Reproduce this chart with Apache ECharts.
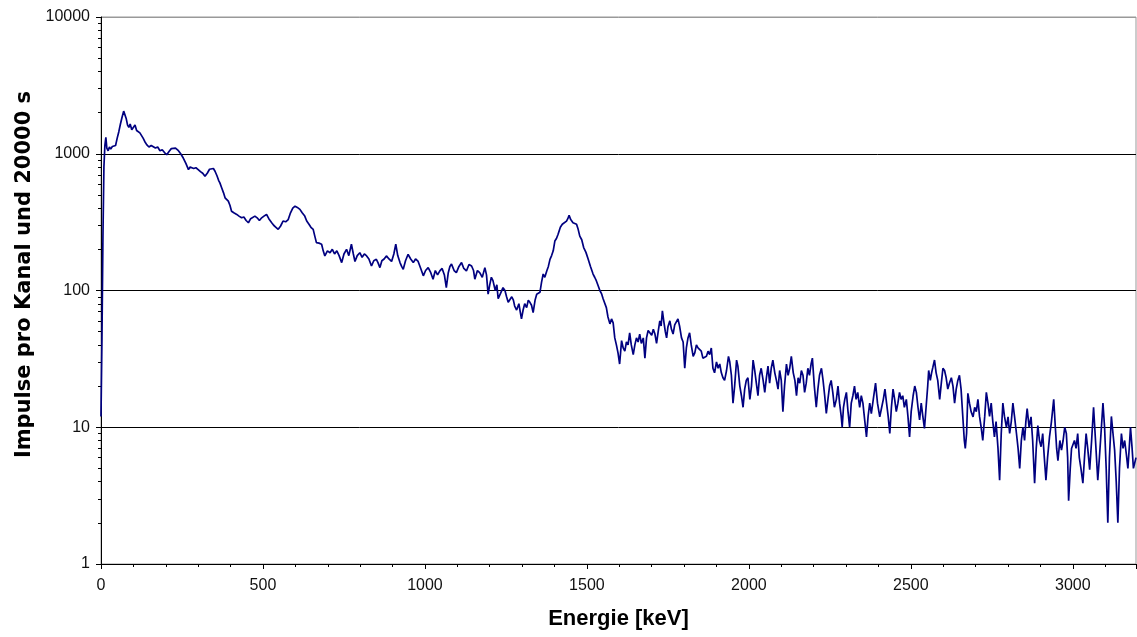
<!DOCTYPE html>
<html>
<head>
<meta charset="utf-8">
<script src="https://cdn.jsdelivr.net/npm/echarts@6/dist/echarts.min.js"></script>
<style>
html,body{margin:0;padding:0;background:#fff;}
#chart{width:1137px;height:637px;}
</style>
</head>
<body>
<div id="chart"></div>
<script>
// Energy (keV) of each plotted point
const energy = [
  0,3,6,9,12,15,18,22,26,30,
  35,40,45,50,55,60,65,70,74,78,
  82,86,90,95,100,105,110,115,120,125,
  130,135,141,148,155,161,168,175,182,189,
  196,203,210,217,223,230,239,246,254,262,
  270,275,280,286,293,300,307,314,321,328,
  335,341,347,352,358,363,367,373,378,383,
  388,393,398,403,410,419,426,434,441,448,
  455,462,468,475,482,489,496,503,511,518,
  527,533,540,547,554,562,570,578,585,592,
  599,606,614,621,629,635,642,648,655,660,
  665,673,681,686,691,699,707,714,721,728,
  735,743,750,758,765,773,779,784,791,799,
  806,813,820,827,835,842,850,855,861,867,
  874,881,889,897,904,910,916,923,928,933,
  940,948,956,964,971,979,987,995,1002,1010,
  1018,1025,1032,1039,1046,1053,1060,1066,1072,1077,
  1082,1090,1097,1105,1113,1120,1128,1136,1144,1150,
  1154,1162,1169,1177,1185,1190,1195,1200,1205,1210,
  1217,1222,1226,1233,1241,1247,1252,1257,1262,1268,
  1273,1277,1283,1290,1294,1298,1303,1308,1314,1319,
  1324,1329,1334,1340,1345,1350,1355,1360,1365,1370,
  1376,1381,1386,1391,1396,1401,1406,1411,1418,1424,
  1430,1437,1441,1445,1450,1457,1463,1468,1473,1478,
  1484,1490,1497,1504,1511,1519,1524,1529,1535,1540,
  1545,1550,1555,1560,1565,1571,1576,1581,1586,1591,
  1596,1601,1607,1612,1617,1622,1627,1632,1637,1643,
  1648,1653,1658,1663,1668,1674,1679,1684,1689,1694,
  1700,1705,1710,1715,1720,1725,1729,1733,1738,1742,
  1746,1750,1756,1761,1766,1771,1776,1781,1786,1792,
  1797,1802,1807,1812,1817,1822,1828,1833,1838,1843,
  1848,1853,1858,1864,1869,1874,1879,1884,1889,1894,
  1900,1905,1910,1915,1920,1925,1931,1937,1941,1946,
  1951,1956,1962,1966,1972,1977,1982,1987,1992,1997,
  2003,2008,2013,2018,2023,2028,2033,2038,2044,2049,
  2054,2059,2064,2069,2074,2080,2085,2090,2095,2100,
  2105,2110,2116,2121,2126,2131,2137,2142,2147,2152,
  2157,2162,2167,2172,2177,2182,2187,2192,2196,2202,
  2208,2213,2218,2224,2229,2234,2239,2244,2249,2254,
  2259,2264,2270,2275,2280,2285,2288,2292,2296,2301,
  2306,2311,2316,2321,2326,2331,2336,2342,2347,2352,
  2358,2363,2368,2373,2378,2384,2391,2397,2404,2410,
  2415,2420,2425,2430,2435,2440,2445,2450,2455,2460,
  2465,2470,2475,2480,2486,2491,2496,2501,2507,2512,
  2517,2522,2527,2532,2537,2542,2547,2552,2555,2560,
  2564,2568,2573,2578,2583,2589,2594,2599,2604,2609,
  2614,2619,2625,2630,2635,2640,2645,2650,2655,2661,
  2665,2668,2672,2676,2681,2686,2692,2697,2702,2707,
  2712,2717,2722,2728,2733,2738,2743,2748,2753,2758,
  2763,2769,2774,2779,2784,2789,2795,2800,2805,2810,
  2815,2820,2826,2831,2836,2841,2846,2851,2855,2859,
  2865,2871,2876,2882,2887,2892,2897,2902,2907,2912,
  2917,2922,2928,2934,2941,2946,2950,2954,2960,2965,
  2970,2975,2980,2984,2987,2992,2996,3000,3005,3010,
  3015,3020,3025,3031,3036,3041,3046,3052,3058,3064,
  3070,3077,3082,3087,3093,3098,3103,3108,3113,3119,
  3124,3129,3134,3139,3144,3150,3155,3160,3165,3170,
  3174,3178,3183,3187,3191,3195
];
// Counts per channel in 20000 s
const counts = [
  12,45,250,800,1150,1320,1100,1050,1120,1080,
  1130,1110,1150,1300,1450,1650,1850,2050,2000,1800,
  1620,1560,1650,1500,1540,1620,1480,1500,1420,1380,
  1300,1230,1165,1120,1150,1130,1100,1120,1053,1070,
  1020,985,1040,1090,1113,1100,1053,1000,930,850,
  766,800,809,780,790,766,740,720,684,720,
  770,796,780,745,690,640,612,560,520,476,
  480,450,420,380,370,360,350,340,345,325,
  313,335,330,350,340,325,340,350,360,335,
  313,300,290,280,295,322,318,330,370,400,
  414,405,392,370,350,322,305,290,280,250,
  224,222,218,195,179,195,189,200,185,195,
  180,160,185,200,180,218,185,163,180,189,
  175,185,179,170,151,165,169,160,147,165,
  170,179,170,163,185,218,180,160,150,143,
  165,184,170,160,170,163,145,128,140,147,
  135,121,140,130,139,145,130,105,135,150,
  156,140,135,150,160,145,139,155,151,140,
  121,140,135,125,147,130,94,110,125,118,
  100,110,87,95,105,100,90,82,80,90,
  85,77,72,80,70,62,72,80,75,85,
  82,78,69,85,94,92,97,115,132,125,
  139,150,169,180,195,230,240,258,290,305,
  300,322,335,355,330,313,320,305,280,250,
  235,206,190,169,150,132,125,118,108,100,
  95,87,87,75,64,57,62,58,45,40,
  35,29,43,38,36,42,40,49,40,34,
  40,45,42,48,41,45,32,45,51,50,
  47,52,48,41,50,60,55,71,58,50,
  45,54,60,52,48,56,55,62,55,45,
  42,27,38,45,49,40,33,35,40,38,
  37,36,32,31,33,36,34,38,27,25,
  30,27,29,25,23,22,26,33,30,24,
  15,20,31,28,20,17,14,19,22,23,
  16,20,31,26,21,17,24,27,22,18,
  23,28,21,27,31,25,22,19,26,22,
  13,20,29,24,27,33,25,22,17,23,
  21,26,24,18,21,27,24,29,32,20,
  14,19,24,27,22,17,12.6,16,20,22,
  18,14,16,20,15,12,10,14,16,18,
  13,10,15,17,20,16,18,14,17,15,
  11,8.5,12,15,12.6,16,21,15,11.9,14,
  16,19,15,12,9,14,19,16,13,15,
  18,16,17,14,16,12,8.5,13,17,20,
  18,14,11.3,15,12,9.8,14,20,26,22,
  25,27.5,31,25,22,16,21,27,26,23,
  19,21,23,20,15,19,22,24,19,11.3,
  8,7,9,17.7,15,13,11.9,14,13,16,
  12,10,8,12,18,15,12,15,11,8.5,
  11,7,4.1,9,15,12,10,11.9,9,11,
  15,12,9,7,5,8,10,8,11,13.7,
  10,11.9,8,3.9,7,10.3,8,7.2,9,6,
  4.1,6,8.5,11,16,10,7,5.7,8,6.8,
  8,10,9,6,2.9,5,7,6.8,8,7,
  9,6,5,3.9,6,9,7,4.9,8,14,
  8,4.1,6,9,15,10,5,2,6,12,
  9,6.8,4,2,5,9,7,8,6.4,5,
  7,10,7,5,4.9,6
];
const xTickLabels = [0, 500, 1000, 1500, 2000, 2500, 3000];
const yTickLabels = [1, 10, 100, 1000, 10000];
const yMinorSteps = [2, 3, 4, 5, 6, 7, 8, 9];

if (energy.length !== counts.length) {
  throw new Error('length mismatch ' + energy.length + ' vs ' + counts.length);
}

const seriesData = energy.map((e, i) => [e, counts[i]]);
const minorLogPositions = [];
for (let d = 0; d < yTickLabels.length - 1; d++) {
  yMinorSteps.forEach(s => minorLogPositions.push(d + Math.log10(s)));
}

const chart = echarts.init(document.getElementById('chart'), null, {renderer: 'canvas'});
const labelFont = {fontFamily: '"Liberation Sans", Arial, sans-serif', fontSize: 16, color: '#111'};
const plain = v => String(Math.round(v));

chart.setOption({
  animation: false,
  backgroundColor: '#fff',
  grid: {
    left: 101, right: 1, top: 17, bottom: 73,
    show: true, borderColor: '#999', borderWidth: 1, backgroundColor: 'transparent'
  },
  xAxis: {
    type: 'value',
    min: xTickLabels[0],
    max: 3195,
    interval: 500,
    name: 'Energie [keV]',
    nameLocation: 'middle',
    nameGap: 44,
    nameTextStyle: {fontFamily: '"Liberation Sans", Arial, sans-serif', fontSize: 22, fontWeight: 'bold', color: '#000'},
    axisLine: {show: true, lineStyle: {color: '#000', width: 1}},
    axisTick: {show: true, length: 5, lineStyle: {color: '#000'}},
    minorTick: {show: true, splitNumber: 5, length: 3, lineStyle: {color: '#000'}},
    axisLabel: Object.assign({margin: 14, showMaxLabel: false, formatter: plain}, labelFont),
    splitLine: {show: false}
  },
  yAxis: [{
    type: 'log',
    logBase: 10,
    min: yTickLabels[0],
    max: yTickLabels[yTickLabels.length - 1],
    name: 'Impulse pro Kanal und 20000 s',
    nameLocation: 'middle',
    nameGap: 63,
    nameTextStyle: {fontFamily: '"DejaVu Sans", sans-serif', fontSize: 21, fontWeight: 'bold', color: '#000', padding: [0, 0, 0, 32]},
    axisLine: {show: true, lineStyle: {color: '#000', width: 1}},
    axisTick: {show: true, length: 5, lineStyle: {color: '#000'}},
    axisLabel: Object.assign({margin: 11, formatter: plain}, labelFont),
    splitLine: {show: true, lineStyle: {color: ['#000', '#000', '#000', '#000', '#999'], width: 1}}
  }, {
    type: 'value',
    min: 0,
    max: yTickLabels.length - 1,
    position: 'left',
    axisLine: {show: false},
    axisLabel: {show: false},
    splitLine: {show: false},
    axisTick: {show: true, length: 3, customValues: minorLogPositions, lineStyle: {color: '#000'}}
  }],
  series: [{
    type: 'line',
    yAxisIndex: 0,
    data: seriesData,
    showSymbol: false,
    symbol: 'none',
    clip: true,
    lineStyle: {color: '#000080', width: 1.7},
    silent: true
  }]
});
</script>
</body>
</html>
